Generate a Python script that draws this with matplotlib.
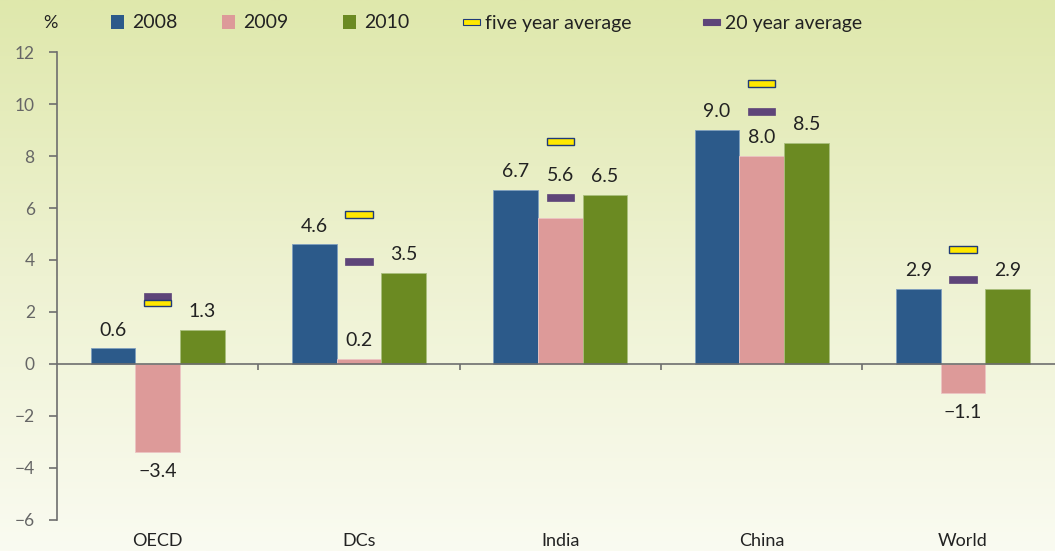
import numpy as np
import matplotlib
matplotlib.use("Agg")
import matplotlib.pyplot as plt
from matplotlib.patches import Rectangle
from matplotlib.colors import LinearSegmentedColormap
import matplotlib.transforms as mtransforms

categories = ["OECD", "DCs", "India", "China", "World"]
v2008 = [0.6, 4.6, 6.7, 9.0, 2.9]
v2009 = [-3.4, 0.2, 5.6, 8.0, -1.1]
v2010 = [1.3, 3.5, 6.5, 8.5, 2.9]
five_year_avg = [2.35, 5.75, 8.55, 10.8, 4.4]
twenty_year_avg = [2.6, 3.95, 6.4, 9.7, 3.25]
yticks = [-6, -4, -2, 0, 2, 4, 6, 8, 10, 12]
ytick_labels = ["\u22126", "\u22124", "\u22122", "0", "2", "4", "6", "8", "10", "12"]
legend_labels = ["2008", "2009", "2010", "five year average", "20 year average"]

plt.rcParams['font.family'] = ['Lato', 'DejaVu Sans']

C08 = "#2c5a8a"
C09 = "#dd9a99"
C10 = "#6b8a22"
CYEL = "#ffe800"
CYEL_E = "#1f3a78"
CPUR = "#5e4579"
TXT = "#222222"
GRAY = "#666666"

fig = plt.figure(figsize=(10.55, 5.51), dpi=100)

# background gradient
bg = fig.add_axes([0, 0, 1, 1], zorder=-10)
cmap = LinearSegmentedColormap.from_list("bg", ["#dfe8ac", "#eef2d2", "#fafbf1"])
grad = np.linspace(0, 1, 256).reshape(-1, 1)
bg.imshow(grad, aspect="auto", cmap=cmap, extent=[0, 1, 0, 1], origin="upper")
bg.set_axis_off()

ax = fig.add_axes([0.054, 0.0563, 0.946, 0.8493])
ax.patch.set_alpha(0)

x = np.arange(len(categories))
w = 0.222
ax.bar(x - w, v2008, w, color=C08, edgecolor="#7f9fbf", linewidth=0.6, zorder=2)
ax.bar(x, v2009, w, color=C09, edgecolor="#ecc4c3", linewidth=0.6, zorder=2)
ax.bar(x + w, v2010, w, color=C10, edgecolor="#a9bf7c", linewidth=0.6, zorder=2)

mh = 0.26
mw = 0.135
ax.bar(x, [mh] * len(x), mw, bottom=np.array(twenty_year_avg) - mh / 2,
       color=CPUR, edgecolor=CPUR, linewidth=0.5, zorder=3)
ax.bar(x, [mh] * len(x), mw, bottom=np.array(five_year_avg) - mh / 2,
       color=CYEL, edgecolor=CYEL_E, linewidth=1.0, zorder=4)

def label(xx, v, extra=0):
    if v >= 0:
        ax.annotate(f"{v:.1f}", (xx, v), xytext=(0, 7 + extra), textcoords="offset points",
                    ha="center", va="bottom", fontsize=14, color=TXT)
    else:
        ax.annotate(f"\u2212{abs(v):.1f}", (xx, v), xytext=(0, -8), textcoords="offset points",
                    ha="center", va="top", fontsize=14, color=TXT)

for i in range(len(x)):
    label(x[i] - w, v2008[i])
    # India 2009 label sits above the 20-year marker
    label(x[i], v2009[i], extra=18 if i == 2 else 0)
    label(x[i] + w, v2010[i])

ax.set_xlim(-0.5, 4.457)
ax.set_ylim(-6, 12)
ax.axhline(0, color="#6e6e6e", linewidth=1.2, zorder=5)
ax.vlines([0.5, 1.5, 2.5, 3.5], -0.25, 0, color="#6e6e6e", linewidth=1.2, zorder=5)

for s in ["top", "right", "bottom"]:
    ax.spines[s].set_visible(False)
ax.spines["left"].set_color("#6e6e6e")
ax.spines["left"].set_linewidth(1.2)
ax.set_yticks(yticks)
ax.set_yticklabels(ytick_labels)
ax.tick_params(axis="y", direction="out", length=6, width=1.2, color="#6e6e6e",
               labelsize=12.5, labelcolor=GRAY, pad=10)
ax.set_xticks([])

trans = mtransforms.blended_transform_factory(ax.transData, ax.transAxes)
for i, c in enumerate(categories):
    ax.text(x[i], -0.028, c, transform=trans, ha="center", va="top", fontsize=13,
            color=TXT)

# legend
ly = 1 - 23 / 551
fig.text(50 / 1055, ly, "%", ha="center", va="center", fontsize=13, color=TXT)
sq = 13
items = [(111, C08, None, "sq"), (222, C09, None, "sq"), (343, C10, None, "sq"),
         (463, CYEL, CYEL_E, "line"), (703, CPUR, CPUR, "line")]
for (px, col, ec, kind), lab in zip(items, legend_labels):
    if kind == "sq":
        fig.patches.append(Rectangle((px / 1055, (551 - 22 - sq / 2) / 551), sq / 1055, sq / 551,
                                     transform=fig.transFigure, facecolor=col, edgecolor="none"))
        tx = px + 21
    else:
        fig.patches.append(Rectangle((px / 1055, (551 - 22 - 2.5) / 551), 17 / 1055, 5 / 551,
                                     transform=fig.transFigure, facecolor=col, edgecolor=ec,
                                     linewidth=0.8))
        tx = px + 22
    fig.text(tx / 1055, ly, lab, ha="left", va="center", fontsize=14, color=TXT)

fig.savefig("out.png", dpi=100)
